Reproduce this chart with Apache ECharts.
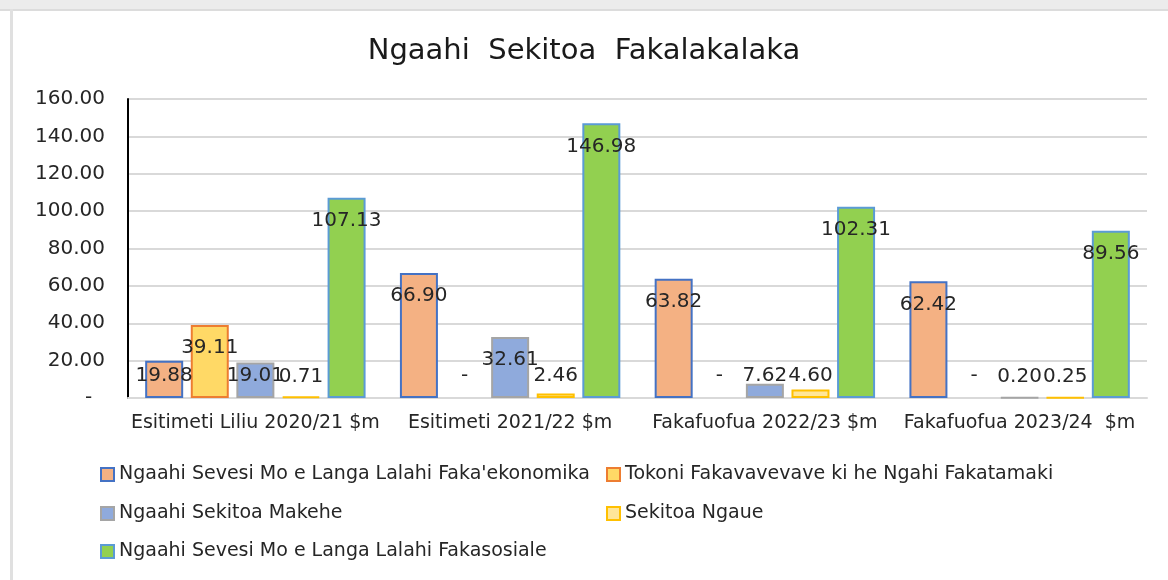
<!DOCTYPE html>
<html>
<head>
<meta charset="utf-8">
<script src="https://cdn.jsdelivr.net/npm/echarts@6/dist/echarts.min.js"></script>
<style type="text/css">
body{margin:0;background:#fff;}
#band{position:absolute;left:0;top:0;width:1168px;height:9px;background:#ececec;border-bottom:2px solid #dcdcdc;}
#edge{position:absolute;left:10px;top:9px;width:3px;height:571px;background:#e0e0e0;}
#chart{position:absolute;left:0;top:0;width:1168px;height:580px;}
</style>
</head>
<body>
<div id="band"></div>
<div id="edge"></div>
<div id="chart"></div>
<script type="text/javascript">
var categories = ['Esitimeti Liliu 2020/21 $m', 'Esitimeti 2021/22 $m', 'Fakafuofua 2022/23 $m', 'Fakafuofua 2023/24  $m'];
var seriesNames = [
    "Ngaahi Sevesi Mo e Langa Lalahi Faka'ekonomika",
    'Tokoni Fakavavevave ki he Ngahi Fakatamaki',
    'Ngaahi Sekitoa Makehe',
    'Sekitoa Ngaue',
    'Ngaahi Sevesi Mo e Langa Lalahi Fakasosiale'
];
var economic = [19.88, 66.90, 63.82, 62.42];
var disaster = [39.11, 0, 0, 0];
var special = [19.01, 32.61, 7.62, 0.20];
var works = [0.71, 2.46, 4.60, 0.25];
var social = [107.13, 146.98, 102.31, 89.56];
var yTicks = [0, 20, 40, 60, 80, 100, 120, 140, 160];

var fills = ['#F4B183', '#FFD966', '#8FAADC', '#FFE699', '#92D050'];
var borders = ['#4472C4', '#ED7D31', '#A5A5A5', '#FFC000', '#5B9BD5'];
var values = [economic, disaster, special, works, social];

var fontName = 'DejaVu Sans';

// label sits inside the top of tall bars, above the axis for short ones
function makeData(arr) {
    return arr.map(function (v) {
        var item = {value: v};
        if (v < 25) {
            item.label = {position: 'insideBottom', distance: 12};
        } else {
            item.label = {position: 'insideTop', distance: 13};
        }
        if (v === 0) item.itemStyle = {borderWidth: 0};
        return item;
    });
}

var series = [];
for (var i = 0; i < values.length; i++) {
    series.push({
        name: seriesNames[i],
        type: 'bar',
        barWidth: 38,
        barGap: '20%',
        data: makeData(values[i]),
        itemStyle: {color: fills[i], borderColor: borders[i], borderWidth: 2},
        label: {
            show: true,
            color: '#262626',
            fontFamily: fontName,
            fontSize: 20,
            formatter: function (p) { return p.value === 0 ? '-' : p.value.toFixed(2); }
        }
    });
}

var legendPos = [[95, 460], [601, 460], [95, 499], [601, 499], [95, 537]];
var legends = [];
for (var j = 0; j < seriesNames.length; j++) {
    legends.push({
        data: [seriesNames[j]],
        left: legendPos[j][0],
        top: legendPos[j][1],
        icon: 'rect',
        itemWidth: 13,
        itemHeight: 13,
        selectedMode: false,
        textStyle: {color: '#262626', fontFamily: fontName, fontSize: 19}
    });
}

var myChart = echarts.init(document.getElementById('chart'));
var option = {
    animation: false,
    title: {
        text: 'Ngaahi  Sekitoa  Fakalakalaka',
        left: 'center',
        top: 32,
        textStyle: {color: '#1a1a1a', fontFamily: fontName, fontSize: 29, fontWeight: 'normal'}
    },
    legend: legends,
    grid: {left: 128, right: 21, top: 99, bottom: 182},
    xAxis: {
        type: 'category',
        data: categories,
        axisTick: {show: false},
        axisLine: {lineStyle: {color: '#d9d9d9', width: 2}},
        axisLabel: {interval: 0, color: '#262626', fontFamily: fontName, fontSize: 19, margin: 16}
    },
    yAxis: {
        type: 'value',
        min: yTicks[0],
        max: yTicks[yTicks.length - 1],
        interval: yTicks[1] - yTicks[0],
        axisLine: {show: true, lineStyle: {color: '#000', width: 2}},
        axisTick: {show: false},
        splitLine: {lineStyle: {color: '#d9d9d9', width: 2}},
        axisLabel: {
            color: '#262626',
            fontFamily: fontName,
            fontSize: 20,
            margin: 23,
            formatter: function (v) { return v === 0 ? '-  ' : v.toFixed(2); }
        }
    },
    series: series
};
myChart.setOption(option);
</script>
</body>
</html>
